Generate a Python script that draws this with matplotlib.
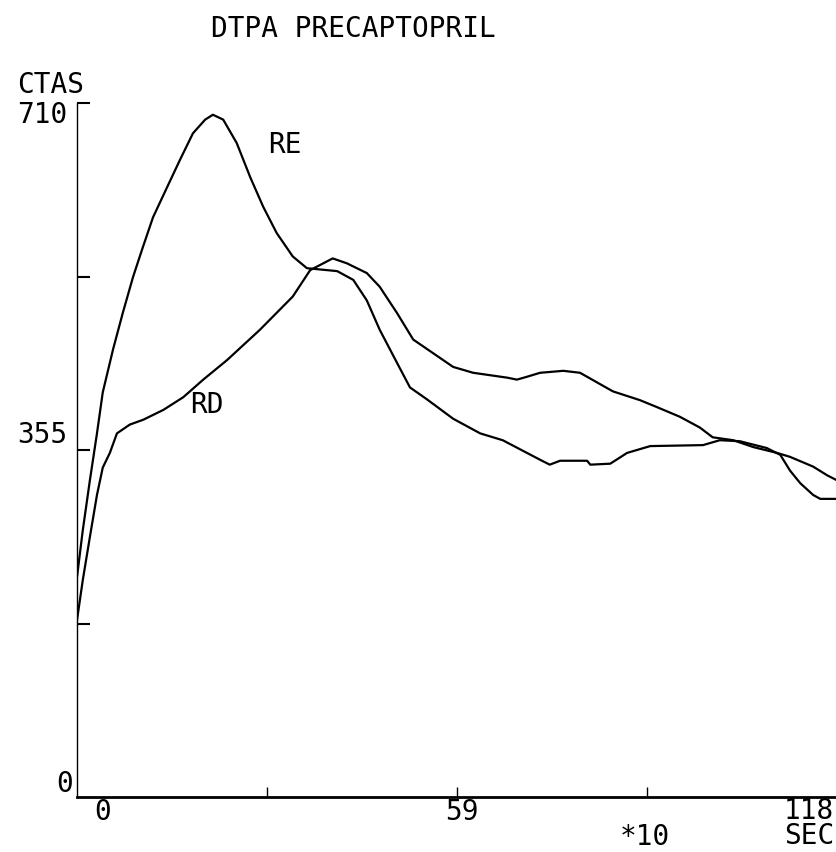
import numpy as np
import matplotlib.pyplot as plt

# time axis in units of 10 s, counts in CTAS
re_x = [0, 0.9, 2.0, 3.1, 4.0, 5.6, 7.1, 8.7, 10.2, 11.8, 14.0, 16.0, 18.0, 19.9,
        21.1, 22.7, 24.8, 26.9, 28.9, 31.0, 33.5, 35.7, 40.4, 42.9, 45.0, 47.0,
        49.7, 51.7, 54.3, 58.4, 62.6, 66.1, 71.9, 73.4, 75.0, 79.2, 79.7, 82.8,
        85.4, 89.0, 97.2, 99.8, 102.9, 107.1, 109.2, 110.7, 112.3, 114.3, 115.4, 118]
re_y = [225, 273, 324, 372, 414, 458, 495, 532, 562, 593, 624, 652, 679, 693,
        698, 693, 669, 634, 604, 577, 553, 541, 538, 529, 508, 478,
        444, 419, 407, 387, 372, 365, 345, 340, 344, 344, 340, 341,
        352, 359, 360, 365, 364, 357, 350, 334, 321, 309, 305, 305]

rd_x = [0, 0.9, 2.0, 3.1, 4.0, 5.1, 6.2, 8.2, 10.3, 13.4, 16.5, 19.6, 23.3, 28.4,
        33.5, 36.2, 39.7, 41.9, 45.0, 47.0, 49.7, 52.2, 55.3, 58.4, 61.5, 66.8,
        68.3, 69.9, 71.9, 75.5, 78.1, 83.2, 87.4, 90.0, 93.6, 96.7, 98.7, 101.9,
        105.0, 108.7, 110.7, 114.3, 116.5, 118]
rd_y = [181, 222, 266, 309, 337, 352, 372, 381, 386, 396, 409, 427, 447, 478,
        512, 539, 551, 546, 536, 522, 495, 468, 454, 440, 434, 429,
        427, 430, 434, 436, 434, 415, 406, 399, 389, 378, 368, 365,
        358, 352, 348, 338, 329, 324]

y_ticks = [177.5, 355, 532.5, 710]
x_ticks = [29.5, 59, 88.5]

W, H = 836, 852
MONO = "DejaVu Sans Mono"
FS = 20

fig = plt.figure(figsize=(W / 100, H / 100), dpi=100)
fig.patch.set_facecolor("white")

# axes box: x 0..118 over px 77..837, y 0..710 over px 797..103
ax = fig.add_axes([77 / W, 55 / H, 760 / W, 694 / H])
ax.plot(re_x, re_y, color="black", linewidth=1.6)
ax.plot(rd_x, rd_y, color="black", linewidth=1.6)
ax.set_xlim(0, 118)
ax.set_ylim(0, 710)

for side in ("top", "right"):
    ax.spines[side].set_visible(False)
ax.spines["left"].set_linewidth(1.0)
ax.spines["bottom"].set_linewidth(2.0)

ax.set_yticks(y_ticks)
ax.set_xticks(x_ticks)
ax.tick_params(axis="y", direction="in", length=9.5, width=1.5, labelleft=False)
ax.tick_params(axis="x", direction="in", length=7, width=1.0, labelbottom=False)


def txt(x, y, s, ha="left", va="baseline", **kw):
    # x, y are pixel positions in the figure, from the top-left corner
    fig.text(x / W, 1 - y / H, s, ha=ha, va=va,
             family=MONO, fontsize=FS, color="black", **kw)


txt(353, 37, "DTPA PRECAPTOPRIL", ha="center")
txt(17, 93, "CTAS")
txt(17, 123, "710")
txt(17, 443, "355")
txt(73, 792, "0", ha="right")
txt(103, 820, "0", ha="center")
txt(462, 820, "59", ha="center")
txt(834, 797, "118\nSEC", ha="right", va="top", linespacing=0.88)
txt(645, 845, "*10", ha="center")
txt(268, 153, "RE")
txt(190, 413, "RD")

fig.savefig("out.png", dpi=100)
